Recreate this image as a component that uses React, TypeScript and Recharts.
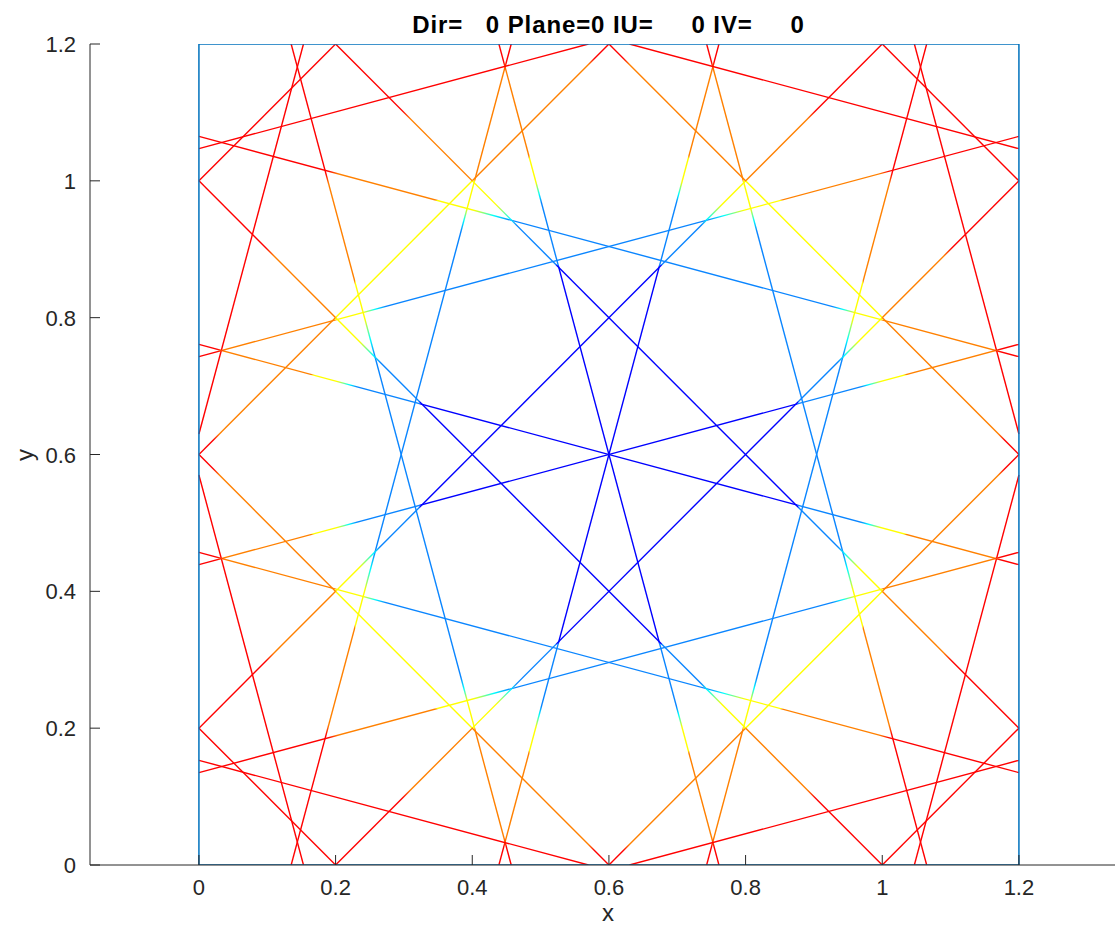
import { LineChart, Line, XAxis, YAxis } from 'recharts';

const xTicks = [0, 0.2, 0.4, 0.6, 0.8, 1, 1.2];
const yTicks = [0, 0.2, 0.4, 0.6, 0.8, 1, 1.2];

// each ray runs from its first point to its second
const raysA = [
  [[0.439, 1.2], [0.761, 0]],
  [[0.457, 0], [0.135, 1.2]],
  [[0.743, 1.2], [1.065, 0]],
  [[0, 0.57], [0.153, 0]],
  [[1.047, 1.2], [1.2, 0.63]],
];
const raysB = [
  [[0.439, 0], [0.761, 1.2]],
  [[0.457, 1.2], [0.135, 0]],
  [[0.743, 0], [1.065, 1.2]],
  [[1.047, 0], [1.2, 0.57]],
  [[0, 0.63], [0.153, 1.2]],
];
const raysC = [
  [[0, 0.761], [1.2, 0.439]],
  [[0, 0.457], [1.2, 0.135]],
  [[1.2, 0.743], [0, 1.065]],
  [[0, 0.153], [0.57, 0]],
  [[0.63, 1.2], [1.2, 1.047]],
];
const raysD = [
  [[0, 0.439], [1.2, 0.761]],
  [[0, 0.743], [1.2, 1.065]],
  [[1.2, 0.457], [0, 0.135]],
  [[0, 1.047], [0.57, 1.2]],
  [[0.63, 0], [1.2, 0.153]],
];
const raysE = [
  [[0, 1], [0.2, 1.2]],
  [[0, 0.6], [0.6, 1.2]],
  [[0, 0.2], [1, 1.2]],
  [[0.2, 0], [1.2, 1]],
  [[0.6, 0], [1.2, 0.6]],
  [[1, 0], [1.2, 0.2]],
];
const raysF = [
  [[0, 0.2], [0.2, 0]],
  [[0, 0.6], [0.6, 0]],
  [[0, 1], [1, 0]],
  [[0.2, 1.2], [1.2, 0.2]],
  [[0.6, 1.2], [1.2, 0.6]],
  [[1, 1.2], [1.2, 1]],
];
const boxX = [0, 1.2, 1.2, 0, 0];
const boxY = [0, 0, 1.2, 1.2, 0];

// colour profile of each ray, by family
const steepShade = ['mid', 'side', 'side', 'edge', 'edge'];
const diagShade = ['edge', 'diamond', 'long', 'long', 'diamond', 'edge'];

const R = '#ff0000';
const O = '#ff8000';
const Yw = '#ffff00';
const Cy = '#00ffff';
const LB = '#0a85ff';
const B = '#0000ff';

const profiles: Record<string, [number, string][]> = {
  edge: [[0, R], [1, R]],
  diamond: [
    [0, R], [0.035, R], [0.05, O], [0.333, O], [0.335, Yw],
    [0.665, Yw], [0.667, O], [0.95, O], [0.965, R], [1, R],
  ],
  long: [
    [0, R], [0.098, R], [0.11, O], [0.199, O], [0.201, Yw], [0.235, Yw],
    [0.255, Cy], [0.265, LB], [0.322, LB], [0.324, B], [0.676, B], [0.678, LB],
    [0.735, LB], [0.745, Cy], [0.765, Yw], [0.799, Yw], [0.801, O], [0.89, O],
    [0.902, R], [1, R],
  ],
  mid: [
    [0, R], [0.022, R], [0.032, O], [0.137, O], [0.139, Yw], [0.168, Yw],
    [0.183, Cy], [0.193, LB], [0.27, LB], [0.272, B], [0.728, B], [0.73, LB],
    [0.807, LB], [0.817, Cy], [0.832, Yw], [0.861, Yw], [0.863, O], [0.968, O],
    [0.978, R], [1, R],
  ],
  side: [
    [0, R], [0.022, R], [0.032, O], [0.165, O], [0.167, Yw], [0.2, Yw],
    [0.215, Cy], [0.228, LB], [0.62, LB], [0.64, Cy], [0.665, Yw], [0.709, Yw],
    [0.711, O], [0.83, O], [0.842, R], [1, R],
  ],
};

const families = [
  { name: 'a', rays: raysA, shade: steepShade },
  { name: 'b', rays: raysB, shade: steepShade },
  { name: 'c', rays: raysC, shade: steepShade },
  { name: 'd', rays: raysD, shade: steepShade },
  { name: 'e', rays: raysE, shade: diagShade },
  { name: 'f', rays: raysF, shade: diagShade },
];

const rays = families.flatMap((fam) =>
  fam.rays.map((r, i) => ({
    id: `ray-${fam.name}-${i}`,
    profile: fam.shade[i],
    data: [
      { x: r[0][0], y: r[0][1] },
      { x: r[1][0], y: r[1][1] },
    ],
  }))
);

const boxData = boxX.map((x, i) => ({ x, y: boxY[i] }));

const AXIS = '#262626';
const FONT = '"Liberation Sans", Arial, Helvetica, sans-serif';

function XTick(props: any) {
  const { x, y, payload } = props;
  return (
    <g>
      <line x1={x} x2={x} y1={y} y2={y - 10} stroke={AXIS} strokeWidth={1} />
      <text x={x} y={y + 30} textAnchor="middle" fill={AXIS} fontSize={22} fontFamily={FONT}>
        {payload.value}
      </text>
    </g>
  );
}

function YTick(props: any) {
  const { x, y, payload } = props;
  return (
    <g>
      <line x1={x} x2={x + 10} y1={y} y2={y} stroke={AXIS} strokeWidth={1} />
      <text x={x - 14} y={y + 8} textAnchor="end" fill={AXIS} fontSize={22} fontFamily={FONT}>
        {payload.value}
      </text>
    </g>
  );
}

export default function App() {
  return (
    <div style={{ position: 'relative', width: 1115, height: 927 }}>
      <style>{'body { margin: 0; background: #fff; }'}</style>
      <LineChart width={1115} height={927} margin={{ top: 44, right: 0, bottom: 0, left: 0 }}>
        <defs>
          {rays.map((r) => {
            const [p, q] = r.data;
            const gx = p.x < q.x ? 0 : 1;
            const gy = p.y > q.y ? 0 : 1;
            return (
              <linearGradient key={r.id} id={r.id} x1={gx} y1={gy} x2={1 - gx} y2={1 - gy}>
                {profiles[r.profile].map(([off, c], k) => (
                  <stop key={k} offset={off} stopColor={c} />
                ))}
              </linearGradient>
            );
          })}
        </defs>
        <XAxis
          type="number"
          dataKey="x"
          domain={[-0.1594, 1.3406]}
          allowDataOverflow
          ticks={xTicks}
          height={62}
          tickSize={0}
          tickMargin={0}
          tickLine={false}
          axisLine={{ stroke: AXIS, strokeWidth: 1 }}
          tick={<XTick />}
        />
        <YAxis
          type="number"
          dataKey="y"
          domain={[0, 1.2]}
          allowDataOverflow
          ticks={yTicks}
          width={90}
          tickSize={0}
          tickMargin={0}
          tickLine={false}
          axisLine={{ stroke: AXIS, strokeWidth: 1 }}
          tick={<YTick />}
        />
        {rays.map((r) => (
          <Line
            key={r.id}
            data={r.data}
            dataKey="y"
            type="linear"
            stroke={`url(#${r.id})`}
            strokeWidth={1.4}
            dot={false}
            activeDot={false}
            isAnimationActive={false}
          />
        ))}
        <Line
          data={boxData}
          dataKey="y"
          type="linear"
          stroke="#0072bd"
          strokeWidth={1.5}
          dot={false}
          activeDot={false}
          isAnimationActive={false}
        />
      </LineChart>
      <svg
        width={1115}
        height={927}
        style={{ position: 'absolute', left: 0, top: 0, pointerEvents: 'none' }}
      >
        <text
          x={608.5}
          y={33}
          textAnchor="middle"
          fontSize={24}
          fontWeight="bold"
          fontFamily={FONT}
          letterSpacing={0.9}
          fill="#000"
          style={{ whiteSpace: 'pre' }}
        >
          {'Dir=   0 Plane=0 IU=     0 IV=     0'}
        </text>
        <text x={608} y={921} textAnchor="middle" fontSize={24} fontFamily={FONT} fill={AXIS}>
          x
        </text>
        <text
          x={33}
          y={455}
          textAnchor="middle"
          fontSize={24}
          fontFamily={FONT}
          fill={AXIS}
          transform="rotate(-90 33 455)"
        >
          y
        </text>
      </svg>
    </div>
  );
}
